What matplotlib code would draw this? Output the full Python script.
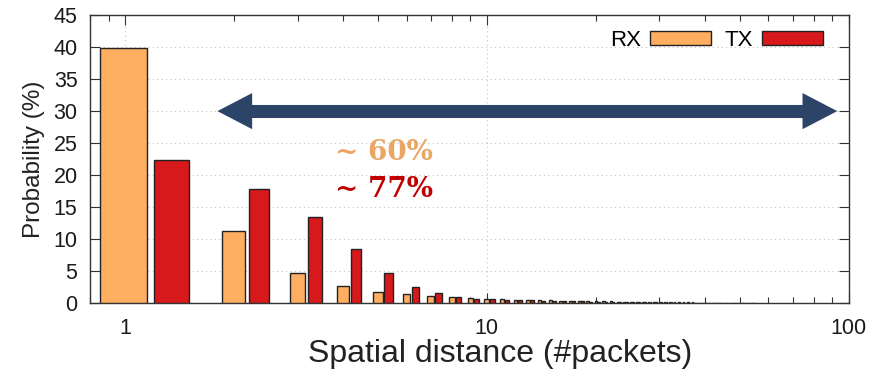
import numpy as np
import matplotlib
matplotlib.use("Agg")
import matplotlib.pyplot as plt
from matplotlib.ticker import FixedLocator, FixedFormatter, LogLocator, NullFormatter

plt.rcParams['font.family'] = ['Liberation Sans', 'DejaVu Sans']

# probability (%) of each spatial distance (in packets)
rx_prob = [39.8, 11.2, 4.7, 2.7, 1.8, 1.4, 1.1, 0.9, 0.8, 0.7,
           0.6, 0.55, 0.5, 0.45, 0.42, 0.38, 0.35, 0.32, 0.3, 0.28,
           0.26, 0.24, 0.22, 0.2, 0.19, 0.18, 0.17, 0.16, 0.15, 0.14,
           0.13, 0.12, 0.11, 0.1, 0.1, 0.09, 0.09, 0.08, 0.08, 0.07,
           0.07, 0.06, 0.06, 0.06, 0.05, 0.05, 0.05, 0.04, 0.04, 0.04,
           0.03, 0.03, 0.03, 0.03, 0.02]
tx_prob = [22.3, 17.8, 13.5, 8.4, 4.7, 2.5, 1.6, 1.0, 0.7, 0.6,
           0.5, 0.45, 0.4, 0.35, 0.32, 0.29, 0.26, 0.24, 0.22, 0.2,
           0.18, 0.17, 0.16, 0.15, 0.14, 0.13, 0.12, 0.11, 0.1, 0.1,
           0.09, 0.09, 0.08, 0.08, 0.07, 0.07, 0.06, 0.06, 0.05, 0.05,
           0.05, 0.04, 0.04, 0.04, 0.03, 0.03, 0.03, 0.03, 0.02, 0.02,
           0.02, 0.02, 0.02, 0.01, 0.01]
distance = np.arange(1, len(rx_prob) + 1)

x_ticks = [1, 10, 100]
x_ticklabels = ['1', '10', '100']
y_ticks = list(range(0, 46, 5))

rx_color = '#fdae61'
tx_color = '#d7191c'
arrow_color = '#2b4468'

fig = plt.figure(figsize=(8.74, 3.70), dpi=100)
ax = fig.add_axes([0.103, 0.181, 0.868, 0.778])

ax.bar(distance - 0.15, rx_prob, width=0.3, align='edge', color=rx_color,
       edgecolor='#222222', linewidth=1.0, label='RX', zorder=3)
ax.bar(distance + 0.2, tx_prob, width=0.3, align='edge', color=tx_color,
       edgecolor='#222222', linewidth=1.0, label='TX', zorder=3)

ax.set_xscale('log')
ax.set_xlim(0.8, 100)
ax.set_ylim(0, 45)
ax.xaxis.set_major_locator(FixedLocator(x_ticks))
ax.xaxis.set_major_formatter(FixedFormatter(x_ticklabels))
ax.xaxis.set_minor_locator(LogLocator(base=10, subs=np.arange(2, 10)))
ax.xaxis.set_minor_formatter(NullFormatter())
ax.set_yticks(y_ticks)

ax.tick_params(axis='both', which='both', direction='in', top=True, right=True,
               labelsize=15.5, color='#333333', labelcolor='#1a1a1a')
ax.tick_params(axis='both', which='major', length=7, width=0.8)
ax.tick_params(axis='x', which='minor', length=4, width=0.8)
ax.tick_params(axis='x', which='major', pad=11)
ax.tick_params(axis='y', which='major', pad=9)
for s in ax.spines.values():
    s.set_color('#333333')
    s.set_linewidth(1.0)

ax.grid(True, which='major', color='#c4c4c4', linestyle=(0, (1, 3)), linewidth=0.8)
ax.set_axisbelow(True)

ax.set_ylabel('Probability (%)', fontsize=17.5, labelpad=6, color='#222222')
ax.set_xlabel('Spatial distance (#packets)', fontsize=23, color='#222222')
ax.xaxis.set_label_coords(0.54, -0.125)

ax.legend(loc='upper right', ncol=2, frameon=False, markerfirst=False,
          fontsize=16, handlelength=2.75, handleheight=0.6,
          columnspacing=0.6, handletextpad=0.4,
          bbox_to_anchor=(0.984, 0.995), borderaxespad=0.2)

# double-headed arrow spanning distances ~2 to ~90: one shaft, two heads
arrow_y = 30
arrow_ends = (1.8, 93)
ax.plot([arrow_ends[0] * 1.2, arrow_ends[1] / 1.2], [arrow_y, arrow_y],
        color=arrow_color, lw=9.4, solid_capstyle='butt', zorder=5)
for end, base in ((arrow_ends[0], arrow_ends[0] * 1.35), (arrow_ends[1], arrow_ends[1] / 1.35)):
    ax.annotate('', xy=(end, arrow_y), xytext=(base, arrow_y),
                arrowprops=dict(arrowstyle='simple,head_length=2.5,head_width=2.6,tail_width=0.8',
                                mutation_scale=10, color=arrow_color, lw=0,
                                shrinkA=0, shrinkB=0), zorder=5)

ax.text(5.2, 23.6, '~ 60%', color='#eaa664', fontsize=20, fontweight='bold',
        family='DejaVu Serif', ha='center', va='center', zorder=5)
ax.text(5.2, 17.7, '~ 77%', color='#c00000', fontsize=20, fontweight='bold',
        family='DejaVu Serif', ha='center', va='center', zorder=5)

fig.savefig('out.png', dpi=100)
